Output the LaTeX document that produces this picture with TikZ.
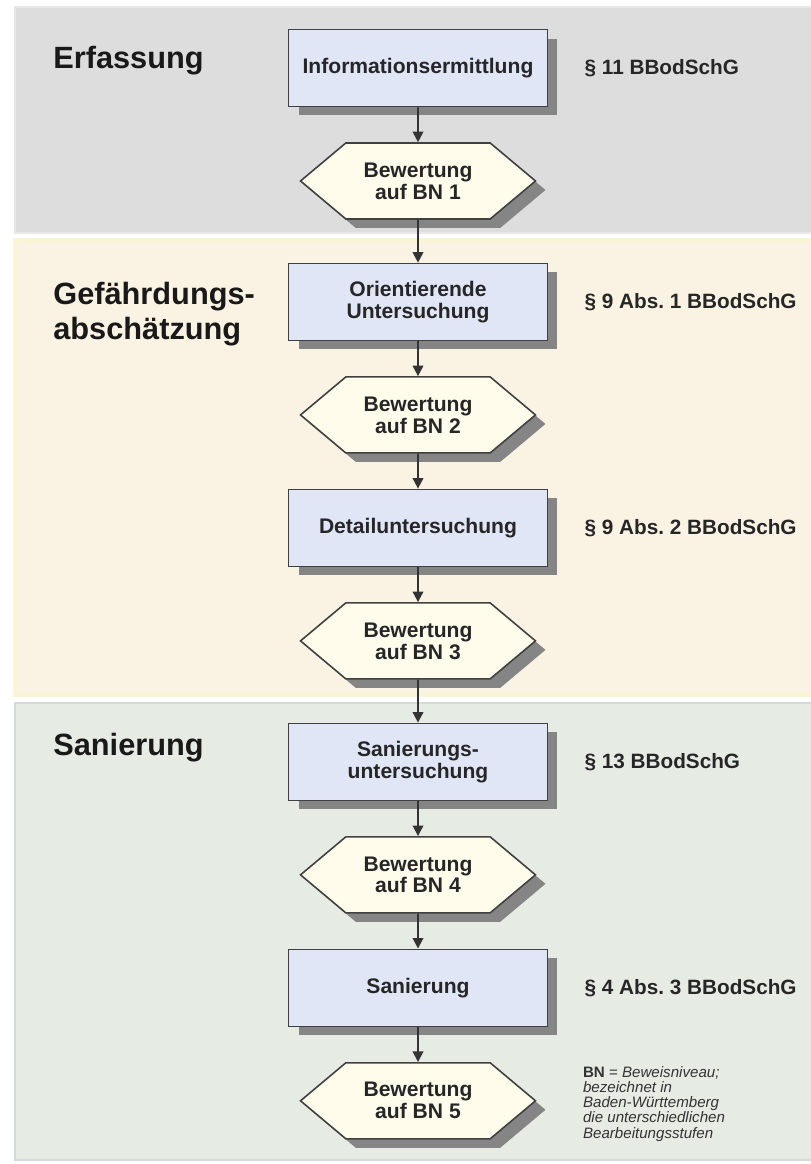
\documentclass[tikz,border=0pt]{standalone}
\usepackage{fontspec}
\setmainfont{Liberation Sans}
\usetikzlibrary{positioning, shapes.symbols, shadows, arrows.meta}

\definecolor{erfgrau}{RGB}{221,221,221}
\definecolor{erfrand}{RGB}{232,232,232}
\definecolor{gefcreme}{RGB}{250,242,227}
\definecolor{gefrand}{RGB}{248,245,212}
\definecolor{sangruen}{RGB}{230,236,228}
\definecolor{sanrand}{RGB}{214,218,214}
\definecolor{stufeblau}{RGB}{224,230,246}
\definecolor{bewcreme}{RGB}{255,252,236}

\begin{document}
\begin{tikzpicture}[x=0.02cm, y=-0.02cm, >={Triangle[length=6pt, width=6pt]}, node distance=2.26cm, on grid,
	schatten/.style={drop shadow={shadow xshift=0.2cm, shadow yshift=-0.18cm, fill=black!48, opacity=1}},
	stufe/.style={rectangle, draw=black!75, line width=0.9pt, fill=stufeblau, minimum width=5.18cm, minimum height=1.54cm, align=center, text=black!85, font=\bfseries\fontsize{12}{12.5}\selectfont, schatten},
	bewertung/.style={signal, signal to=west and east, signal pointer angle=80, draw=black!75, line width=0.9pt, fill=bewcreme, minimum width=4.7cm, minimum height=1.52cm, inner xsep=0pt, align=center, text=black!85, font=\bfseries\fontsize{12}{12.5}\selectfont, schatten},
	phase/.style={inner sep=0pt, align=left, text=black!90, font=\bfseries\fontsize{17.5}{20}\selectfont},
	gesetz/.style={inner sep=0pt, anchor=west, text=black!85, font=\bfseries\fontsize{11.8}{13}\selectfont},
	pfeil/.style={->, line width=1.1pt, black!80}
	]
	\useasboundingbox (0,0) rectangle (811,1164);

	% Phasen (Hintergrund)
	\filldraw[fill=erfgrau, draw=erfrand, line width=1.2pt] (15,7) rectangle (830,233);
	\filldraw[fill=gefcreme, draw=gefrand, line width=2.5pt] (15,240) rectangle (830,695);
	\filldraw[fill=sangruen, draw=sanrand, line width=1.2pt] (15,703) rectangle (830,1160);

	\node[phase, anchor=base west] (erfassung) at (53,68) {Erfassung};
	\node[phase, anchor=west] (gefaehrdung) at (53,314) {Gefährdungs-\\abschätzung};
	\node[phase, anchor=base west] (sanierung) at (53,755) {Sanierung};

	% Ablauf
	\node[stufe] (info) at (418,68) {Informationsermittlung};
	\node[bewertung] (bn1) [below=of info] {Bewertung\\auf BN 1};
	\node[stufe] (orient) [below=2.42cm of bn1] {Orientierende\\Untersuchung};
	\node[bewertung] (bn2) [below=of orient] {Bewertung\\auf BN 2};
	\node[stufe] (detail) [below=of bn2] {Detailuntersuchung};
	\node[bewertung] (bn3) [below=of detail] {Bewertung\\auf BN 3};
	\node[stufe] (sanunt) [below=2.42cm of bn3] {Sanierungs-\\untersuchung};
	\node[bewertung] (bn4) [below=of sanunt] {Bewertung\\auf BN 4};
	\node[stufe] (sanier) [below=of bn4] {Sanierung};
	\node[bewertung] (bn5) [below=of sanier] {Bewertung\\auf BN 5};

	% Rechtsgrundlagen
	\node[gesetz] (g1) at ([xshift=0.72cm]info.east) {§ 11 BBodSchG};
	\node[gesetz] (g2) at ([xshift=0.72cm]orient.east) {§ 9 Abs.\ 1 BBodSchG};
	\node[gesetz] (g3) at ([xshift=0.72cm]detail.east) {§ 9 Abs.\ 2 BBodSchG};
	\node[gesetz] (g4) at ([xshift=0.72cm]sanunt.east) {§ 13 BBodSchG};
	\node[gesetz] (g5) at ([xshift=0.72cm]sanier.east) {§ 4 Abs.\ 3 BBodSchG};

	\node[inner sep=0pt, anchor=west, align=left, text=black!80, font=\fontsize{8.6}{8.7}\selectfont] (hinweis) at ([xshift=0.92cm, yshift=-0.06cm]bn5.east)
		{\textbf{BN} = \textit{Beweisniveau;}\\\textit{bezeichnet in}\\\textit{Baden-Württemberg}\\\textit{die unterschiedlichen}\\\textit{Bearbeitungsstufen}};

	% Pfeile
	\draw[pfeil] (info) -- (bn1);
	\draw[pfeil] (bn1) -- (orient);
	\draw[pfeil] (orient) -- (bn2);
	\draw[pfeil] (bn2) -- (detail);
	\draw[pfeil] (detail) -- (bn3);
	\draw[pfeil] (bn3) -- (sanunt);
	\draw[pfeil] (sanunt) -- (bn4);
	\draw[pfeil] (bn4) -- (sanier);
	\draw[pfeil] (sanier) -- (bn5);
\end{tikzpicture}
\end{document}
